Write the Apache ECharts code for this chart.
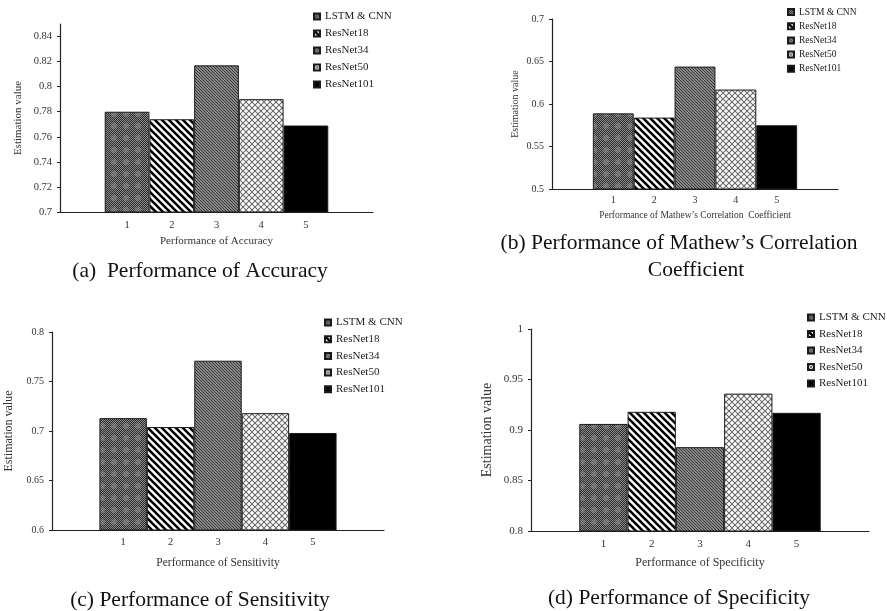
<!DOCTYPE html>
<html>
<head>
<meta charset="utf-8">
<style>
  html, body { margin: 0; padding: 0; background: #fff; }
  #main { width: 887px; height: 611px; }
</style>
<script src="https://cdn.jsdelivr.net/npm/echarts@6/dist/echarts.min.js"></script>
</head>
<body>
<div id="main"></div>
<script>
// bars sit in categories 1..5, first and last slot are empty (Excel layout)
const categories = ['', '1', '2', '3', '4', '5', ''];
const models = ['LSTM & CNN', 'ResNet18', 'ResNet34', 'ResNet50', 'ResNet101'];

const accuracy = [0.780, 0.774, 0.817, 0.790, 0.769];
const mcc = [0.589, 0.584, 0.644, 0.617, 0.575];
const sensitivity = [0.713, 0.704, 0.771, 0.718, 0.698];
const specificity = [0.906, 0.918, 0.883, 0.936, 0.917];

const accuracyTicks = [0.7, 0.72, 0.74, 0.76, 0.78, 0.8, 0.82, 0.84];
const mccTicks = [0.5, 0.55, 0.6, 0.65, 0.7];
const sensitivityTicks = [0.6, 0.65, 0.7, 0.75, 0.8];
const specificityTicks = [0.8, 0.85, 0.9, 0.95, 1];

const axisMax = [0.85, 0.7, 0.8, 1];

const serif = '"Liberation Serif", "DejaVu Serif", serif';

function tile(w, h, draw) {
  const c = document.createElement('canvas');
  c.width = w;
  c.height = h;
  draw(c.getContext('2d'), w, h);
  return { image: c, repeat: 'repeat' };
}

function stripes(ctx, w, h, dir, lw, fg) {
  ctx.strokeStyle = fg;
  ctx.lineWidth = lw;
  ctx.beginPath();
  for (let k = -w; k <= w; k += w) {
    if (dir > 0) {
      ctx.moveTo(k - 1, -1);
      ctx.lineTo(k + w + 1, h + 1);
    } else {
      ctx.moveTo(k - 1, h + 1);
      ctx.lineTo(k + w + 1, -1);
    }
  }
  ctx.stroke();
}

const fills = [
  // dark checker with lighter blobs
  tile(12, 12, (ctx, w, h) => {
    for (let y = 0; y < h; y++) {
      for (let x = 0; x < w; x++) {
        ctx.fillStyle = (x + y) % 2 ? '#2a2a2a' : '#8c8c8c';
        ctx.fillRect(x, y, 1, 1);
      }
    }
    ctx.fillStyle = 'rgba(140,140,140,0.55)';
    ctx.beginPath();
    ctx.arc(6, 6, 3, 0, Math.PI * 2);
    ctx.fill();
  }),
  // wide black/white "\" stripes
  tile(7, 7, (ctx, w, h) => {
    ctx.fillStyle = '#fff';
    ctx.fillRect(0, 0, w, h);
    stripes(ctx, w, h, 1, 2.6, '#000');
  }),
  // fine grey "\" stripes
  tile(3, 3, (ctx, w, h) => {
    ctx.fillStyle = '#b0b0b0';
    ctx.fillRect(0, 0, w, h);
    stripes(ctx, w, h, 1, 1.2, '#333');
  }),
  // lattice with white rounds
  tile(6, 6, (ctx, w, h) => {
    ctx.fillStyle = '#fff';
    ctx.fillRect(0, 0, w, h);
    stripes(ctx, w, h, 1, 1.1, '#6a6a6a');
    stripes(ctx, w, h, -1, 1.1, '#6a6a6a');
    ctx.fillStyle = '#fff';
    ctx.beginPath();
    ctx.arc(3, 0, 1.3, 0, Math.PI * 2);
    ctx.arc(3, 6, 1.3, 0, Math.PI * 2);
    ctx.fill();
  }),
  '#000'
];

const panels = [
  { values: accuracy, ticks: accuracyTicks, xName: 'Performance of Accuracy',
    grid: { left: 60, top: 24, width: 313, height: 188 },
    tickFont: 10.5, catFont: 10.5, nameFont: 11, yNameFont: 11, xGap: 24, yGap: 36, catMargin: 8,
    legend: { left: 313, top: 11, font: 11, gap: 6 } },
  { values: mcc, ticks: mccTicks, xName: 'Performance of Mathew\u2019s Correlation  Coefficient',
    grid: { left: 552, top: 19, width: 286, height: 170 },
    tickFont: 10, catFont: 10, nameFont: 9.5, yNameFont: 10, xGap: 21, yGap: 32, catMargin: 6,
    legend: { left: 787, top: 7, font: 9.5, gap: 4.2 } },
  { values: sensitivity, ticks: sensitivityTicks, xName: 'Performance of Sensitivity',
    grid: { left: 52, top: 332, width: 332, height: 198 },
    tickFont: 10, catFont: 10.5, nameFont: 11.5, yNameFont: 12, xGap: 27, yGap: 37, catMargin: 7,
    legend: { left: 324, top: 317, font: 11, gap: 5.7 } },
  { values: specificity, ticks: specificityTicks, xName: 'Performance of Specificity',
    grid: { left: 531, top: 329, width: 338, height: 202 },
    tickFont: 11, catFont: 11, nameFont: 12, yNameFont: 14, xGap: 26, yGap: 37, catMargin: 8,
    legend: { left: 807, top: 312, font: 11, gap: 5.5 } }
];

const captions = [
  { text: '(a)  Performance of Accuracy', x: 200, y: 271 },
  { text: '(b) Performance of Mathew\u2019s Correlation', x: 679, y: 243 },
  { text: 'Coefficient', x: 696, y: 270 },
  { text: '(c) Performance of Sensitivity', x: 200, y: 600 },
  { text: '(d) Performance of Specificity', x: 679, y: 598 }
];

const chart = echarts.init(document.getElementById('main'));

const series = [];
panels.forEach((p, pi) => {
  models.forEach((name, i) => {
    series.push({
      name,
      type: 'bar',
      xAxisIndex: pi,
      yAxisIndex: pi,
      stack: 'panel' + pi,
      barCategoryGap: '0%',
      data: categories.map((c, k) => (k === i + 1 ? p.values[i] : null)),
      itemStyle: { color: fills[i], borderColor: '#1a1a1a', borderWidth: 1 },
      emphasis: { disabled: true }
    });
  });
});

chart.setOption({
  backgroundColor: '#fff',
  animation: false,
  textStyle: { fontFamily: serif },
  title: captions.map((c) => ({
    text: c.text,
    left: c.x,
    top: c.y - 12,
    textAlign: 'center',
    padding: 0,
    textStyle: { fontFamily: serif, fontSize: 21.5, fontWeight: 'normal', color: '#111', lineHeight: 24 }
  })),
  grid: panels.map((p) => p.grid),
  legend: panels.map((p) => ({
    orient: 'vertical',
    left: p.legend.left,
    top: p.legend.top,
    padding: 0,
    icon: 'rect',
    itemWidth: 6,
    itemHeight: 6,
    itemGap: p.legend.gap,
    selectedMode: false,
    data: models,
    textStyle: { fontFamily: serif, fontSize: p.legend.font, lineHeight: p.legend.font, color: '#222' }
  })),
  xAxis: panels.map((p, pi) => ({
    type: 'category',
    gridIndex: pi,
    data: categories,
    name: p.xName,
    nameLocation: 'middle',
    nameGap: p.xGap,
    nameTextStyle: { fontFamily: serif, fontSize: p.nameFont, color: '#333' },
    axisLine: { lineStyle: { color: '#222', width: 1.2 } },
    axisTick: { show: false },
    axisLabel: { fontFamily: serif, fontSize: p.catFont, color: '#333', margin: p.catMargin, interval: 0 },
    splitLine: { show: false }
  })),
  yAxis: panels.map((p, pi) => ({
    type: 'value',
    gridIndex: pi,
    min: p.ticks[0],
    max: axisMax[pi],
    name: 'Estimation value',
    nameLocation: 'middle',
    nameGap: p.yGap,
    nameTextStyle: { fontFamily: serif, fontSize: p.yNameFont, color: '#333' },
    axisLine: { show: true, lineStyle: { color: '#222', width: 1.2 } },
    axisTick: { show: true, length: 3, customValues: p.ticks, lineStyle: { color: '#222' } },
    axisLabel: { fontFamily: serif, fontSize: p.tickFont, color: '#333', margin: 8, customValues: p.ticks },
    splitLine: { show: false }
  })),
  series
});
</script>
</body>
</html>
